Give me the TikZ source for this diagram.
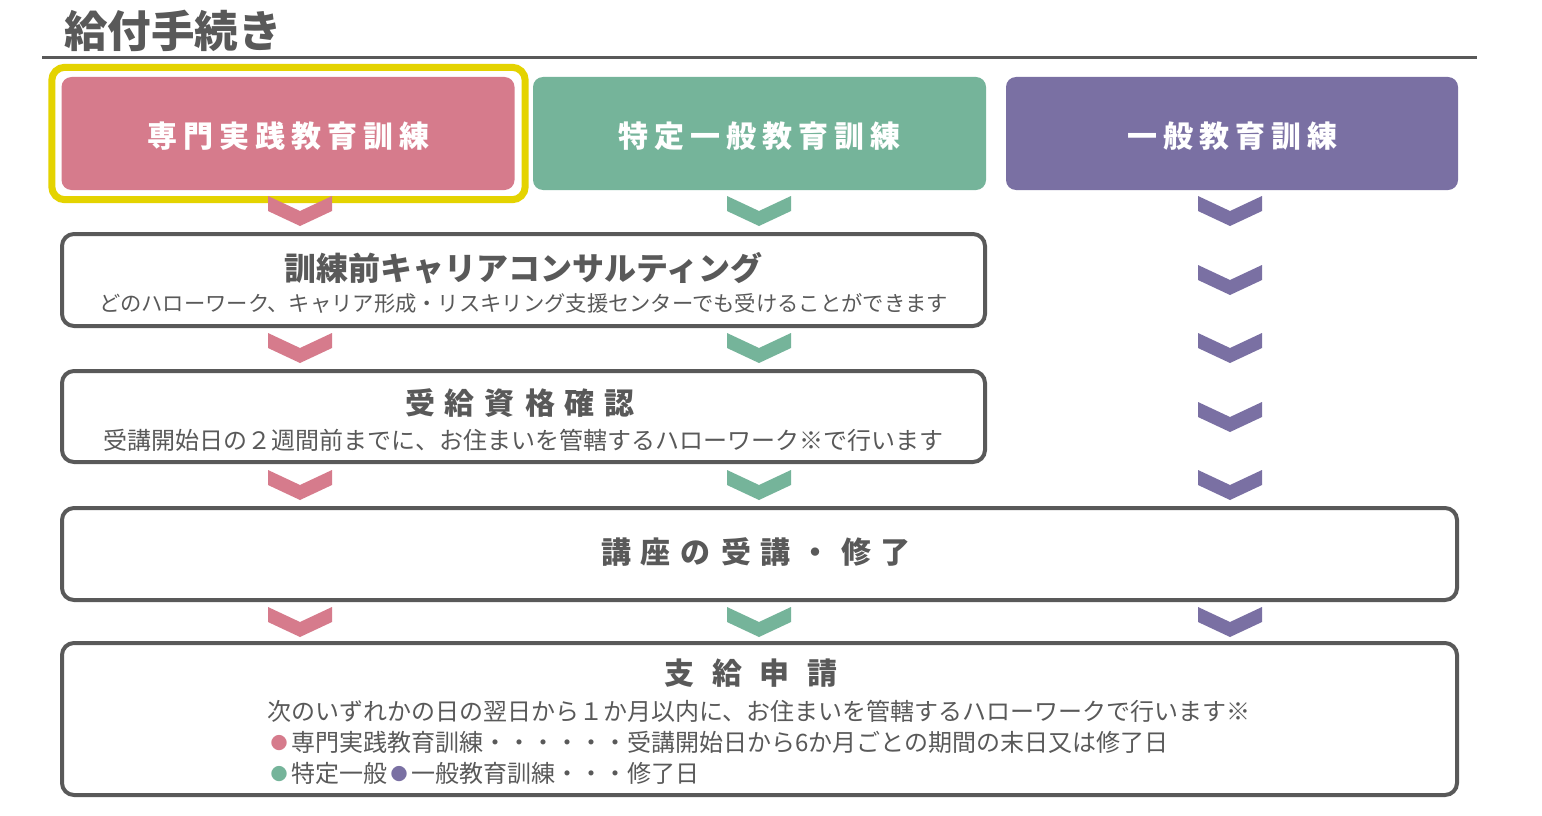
\documentclass[tikz,border=0pt]{standalone}
\usepackage{fontspec}
\setmainfont{Noto Sans CJK JP}
\usetikzlibrary{positioning}
\definecolor{txtgrey}{HTML}{595959}
\definecolor{pinkc}{HTML}{D67B8C}
\definecolor{greenc}{HTML}{75B49A}
\definecolor{purplec}{HTML}{7A70A3}
\definecolor{hiyellow}{HTML}{E4D300}
% letter spaced text: gap between the characters
\makeatletter
\newcommand\spaced[2]{\def\sp@first{1}%
  \@tfor\sp@c:=#2\do{\ifx\sp@first\@empty\hspace{#1}\fi\sp@c\let\sp@first\@empty}}
\makeatother
% small coloured bullet
\newcommand\dotmark[1]{\makebox[24pt]{\raisebox{2pt}{\fontsize{17}{20}\selectfont\textcolor{#1}{●}}}}
\tikzset{
  hdrbox/.style={rectangle, rounded corners=10pt, minimum width=453pt, minimum height=113pt, inner sep=0pt},
  hdrtext/.style={text=white, inner sep=0pt, yshift=-2.5pt, font=\fontsize{30}{36}\selectfont\bfseries},
  stepbox/.style={rectangle, draw=txtgrey, line width=4pt, rounded corners=12pt, inner sep=0pt},
  steptitle/.style={text=txtgrey, inner sep=0pt, font=\fontsize{30}{36}\selectfont\bfseries},
  steptext/.style={text=txtgrey, inner sep=0pt, font=\fontsize{24}{29}\selectfont},
  chev/.pic={\fill[pic actions] (-32,0) -- (0,15) -- (32,0) -- (32,15) -- (0,30) -- (-32,15) -- cycle;},
}
\begin{document}
\begin{tikzpicture}[x=1pt,y=-1pt]
  \useasboundingbox[fill=white] (0,0) rectangle (1542,816);
  % title
  \node[text=txtgrey, inner sep=0pt, font=\fontsize{43.5}{50}\selectfont\bfseries, anchor=west] (title) at (64,31) {給付手続き};
  \draw[txtgrey, line width=3.5pt] (42,57.5) -- (1477,57.5);
  % course headers
  \node[hdrbox, fill=pinkc] (hdrpink) at (288,133.5) {};
  \node[hdrbox, fill=greenc] (hdrgreen) at (759.5,133.5) {};
  \node[hdrbox, fill=purplec, minimum width=452pt] (hdrpurple) at (1232,133.5) {};
  \node[hdrtext] (hdrpinkt) at (hdrpink) {\spaced{6pt}{専門実践教育訓練}};
  \node[hdrtext] (hdrgreent) at (hdrgreen) {\spaced{6pt}{特定一般教育訓練}};
  \node[hdrtext] (hdrpurplet) at (hdrpurple) {\spaced{6pt}{一般教育訓練}};
  \draw[hiyellow, line width=7pt, rounded corners=13pt]
    ([shift={(-9.5,-9.5)}]hdrpink.north west) rectangle ([shift={(10.5,9.5)}]hdrpink.south east);
  % steps
  \node[stepbox, minimum width=923pt, minimum height=92pt] (cons) at (523.5,280) {};
  \node[steptitle, font=\fontsize{32}{38}\selectfont\bfseries] (constitle) at (523.5,268) {訓練前キャリアコンサルティング};
  \node[steptext, font=\fontsize{21.3}{26}\selectfont] (conssub) at (523.5,303)
    {どのハローワーク、キャリア形成・リスキリング支援センターでも受けることができます};
  \node[stepbox, minimum width=923pt, minimum height=91pt] (check) at (523.5,416.5) {};
  \node[steptitle] (checktitle) at (520,403) {\spaced{10pt}{受給資格確認}};
  \node[steptext] (checksub) at (523.5,440)
    {受講開始日の２週間前までに、お住まいを管轄するハローワーク※で行います};
  \node[stepbox, minimum width=1395pt, minimum height=92pt] (course) at (759.5,554) {};
  \node[steptitle] (coursetitle) at (756,552) {\spaced{10pt}{講座の受講・修了}};
  \node[stepbox, minimum width=1395pt, minimum height=152pt] (apply) at (759.5,719) {};
  \node[steptitle] (applytitle) at (751,673) {\spaced{17.5pt}{支給申請}};
  \node[steptext, anchor=west] (applyl1) at (267,711)
    {次のいずれかの日の翌日から１か月以内に、お住まいを管轄するハローワークで行います※};
  \node[steptext, anchor=west] (applyl2) at (267,742)
    {\dotmark{pinkc}専門実践教育訓練・・・・・・受講開始日から6か月ごとの期間の末日又は修了日};
  \node[steptext, anchor=west] (applyl3) at (267,773)
    {\dotmark{greenc}特定一般\dotmark{purplec}一般教育訓練・・・修了日};
  % chevrons
  \foreach \cy in {196,333,470,607} {
    \pic[fill=pinkc] at (300,\cy) {chev};
    \pic[fill=greenc] at (759,\cy) {chev};
  }
  \foreach \cy in {196,265,333,402,470,607}
    \pic[fill=purplec] at (1230,\cy) {chev};
\end{tikzpicture}
\end{document}
